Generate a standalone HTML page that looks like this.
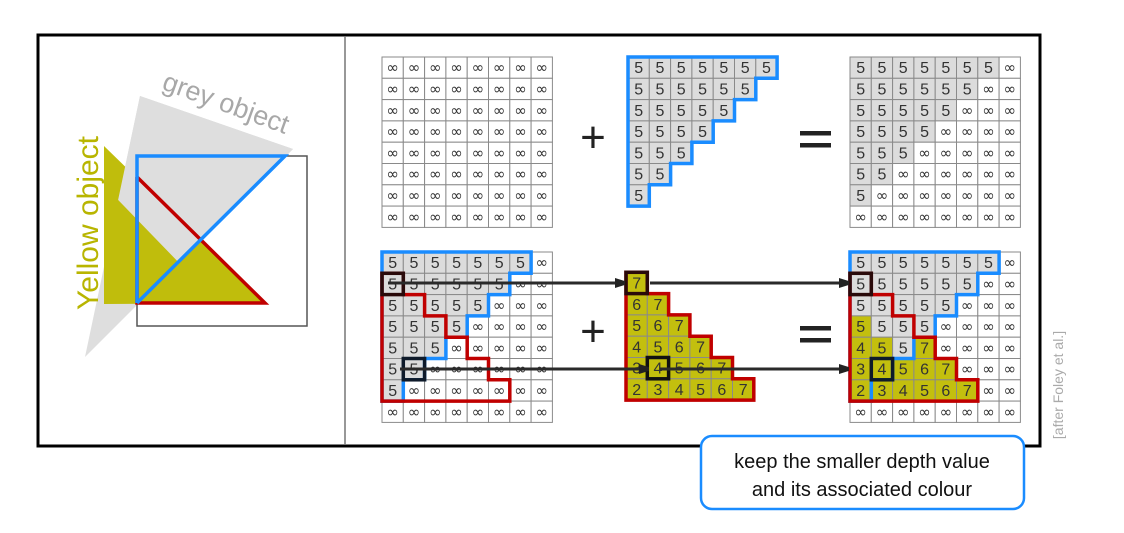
<!DOCTYPE html>
<html><head><meta charset="utf-8">
<style>
html,body{margin:0;padding:0;background:#fff;}
body{width:1124px;height:528px;overflow:hidden;position:relative;font-family:"Liberation Sans","DejaVu Sans",sans-serif;}
svg text{font-family:"Liberation Sans","DejaVu Sans",sans-serif;}
</style></head>
<body>
<svg id="s" width="1124" height="528" viewBox="0 0 1124 528" xmlns="http://www.w3.org/2000/svg">
  <defs>
    <clipPath id="greyFront"><polygon points="0,78 400,491 400,0 0,0"/></clipPath>
    <marker id="ah" markerWidth="10" markerHeight="10" refX="9" refY="5" orient="auto" markerUnits="userSpaceOnUse">
      <path d="M0,0 L16,5 L0,10 z" fill="#222"/>
    </marker>
  </defs>
  <rect x="38" y="35" width="1002" height="411" fill="none" stroke="#000" stroke-width="3"/>
  <line x1="345" y1="36" x2="345" y2="445" stroke="#777" stroke-width="1.5"/>

  <g>
    <polygon points="140,96 293,149 85,357" fill="#dedede"/>
    <polygon points="104,146 265,303 104,304" fill="#c0bd0c"/>
    <polygon points="140,96 293,149 85,357" fill="#dedede" clip-path="url(#greyFront)"/>
    <rect x="137" y="156" width="170" height="170" fill="none" stroke="#555" stroke-width="1.5"/>
    <polyline points="137,177 265,303 137,303 137,177" fill="none" stroke="#c00000" stroke-width="3.5"/>
    <polyline points="137,303 137,156 285,156 137,303" fill="none" stroke="#1a8cff" stroke-width="3.5"/>
    <text x="226" y="112" font-size="27" fill="#a8a8a8" text-anchor="middle" transform="rotate(20 226 103)">grey object</text>
    <text x="0" y="0" font-size="30" fill="#b8b500" text-anchor="middle" transform="translate(98 223) rotate(-90)">Yellow object</text>
  </g>

  <g id="grids"></g>

  <g>
    <text x="593" y="152" font-size="44" fill="#222" text-anchor="middle">+</text>
    <text x="593" y="346" font-size="44" fill="#222" text-anchor="middle">+</text>
    <rect x="800" y="131" width="31" height="4.5" fill="#222"/>
    <rect x="800" y="143" width="31" height="4.5" fill="#222"/>
    <rect x="800" y="326" width="31" height="4.5" fill="#222"/>
    <rect x="800" y="338" width="31" height="4.5" fill="#222"/>
  </g>

  <rect x="701" y="436" width="323" height="73" rx="11" fill="#fff" stroke="#1a8cff" stroke-width="2.5"/>
  <text x="862" y="468" font-size="20" fill="#111" text-anchor="middle">keep the smaller depth value</text>
  <text x="862" y="496" font-size="20" fill="#111" text-anchor="middle">and its associated colour</text>
  <text x="0" y="0" font-size="14" fill="#aaa" text-anchor="middle" transform="translate(1063 385) rotate(-90)">[after Foley et al.]</text>
</svg>
<script>
const N = 8;
const greyDepth = 5;
const greyRowWidths = [7,6,5,4,3,2,1,0];
const yellowRowWidths = [0,1,2,3,4,5,6,0];
const INF = "\u221E";
const S = 21.3;
const GREY = "#dcdcdc", YEL = "#c3bf0e", WHITE = "#fff";
const NS = "http://www.w3.org/2000/svg";
const root = document.getElementById('grids');

function mk(tag, attrs, parent){ const e=document.createElementNS(NS,tag); for(const k in attrs) e.setAttribute(k,attrs[k]); (parent||root).appendChild(e); return e; }

function greyVal(r,c){ return c<greyRowWidths[r] ? greyDepth : null; }
function yVal(r,c){ if(c>=yellowRowWidths[r]) return null; return (8 - yellowRowWidths[r]) + c; }

function cell(g,x,y,val,fill,name){
  const r = mk('rect',{x:x,y:y,width:S,height:S,fill:fill,stroke:'#8a8a8a','stroke-width':1},g);
  
  
  const isInf = val===INF;
  const t = mk('text',{x:x+S/2,y:y+S/2+(isInf?5:5.5),'font-size':isInf?15:16,fill:'#333','text-anchor':'middle'},g);
  if(isInf) t.setAttribute('style','font-family:"DejaVu Sans",sans-serif');
  t.textContent = val;
  
  
}

function stair(x0,y0,r0,r1,widths){
  let p = `M${x0},${y0+r0*S}`;
  for(let r=r0;r<=r1;r++){ p += ` L${x0+widths[r]*S},${y0+r*S} L${x0+widths[r]*S},${y0+(r+1)*S}`; }
  p += ` L${x0},${y0+(r1+1)*S} Z`;
  return p;
}
function outline(g,x0,y0,r0,r1,widths,color,name){
  const p = mk('path',{d:stair(x0,y0,r0,r1,widths),fill:'none',stroke:color,'stroke-width':3.5,'stroke-linejoin':'miter'},g);
  
  
}
function box(g,x0,y0,r,c,color){
  const b = mk('rect',{x:x0+c*S,y:y0+r*S,width:S,height:S,fill:'none',stroke:color,'stroke-width':3.5},g);
  
  
}

(function(){ const x0=382,y0=57; const g=mk('g',{});  
  for(let r=0;r<N;r++)for(let c=0;c<N;c++) cell(g,x0+c*S,y0+r*S,INF,WHITE,'buffer-cell'); })();
(function(){ const x0=628,y0=57; const g=mk('g',{});  
  for(let r=0;r<N;r++)for(let c=0;c<greyRowWidths[r];c++) cell(g,x0+c*S,y0+r*S,greyDepth,GREY,'grey-cell');
  outline(g,x0,y0,0,6,greyRowWidths,'#1a8cff','grey-fragment-outline'); })();
(function(){ const x0=850,y0=57; const g=mk('g',{});  
  for(let r=0;r<N;r++)for(let c=0;c<N;c++){ const v=greyVal(r,c); cell(g,x0+c*S,y0+r*S,v===null?INF:v,v===null?WHITE:GREY,'buffer-cell'); } })();
(function(){ const x0=382,y0=252; const g=mk('g',{});  
  for(let r=0;r<N;r++)for(let c=0;c<N;c++){ const v=greyVal(r,c); cell(g,x0+c*S,y0+r*S,v===null?INF:v,v===null?WHITE:GREY,'buffer-cell'); }
  outline(g,x0,y0,0,6,greyRowWidths,'#1a8cff','grey-outline');
  outline(g,x0,y0,1,6,yellowRowWidths,'#c00000','yellow-outline');
  box(g,x0,y0,1,0,'#2a0a0a'); box(g,x0,y0,5,1,'#0e1a2a'); })();
(function(){ const x0=626,y0=251; const g=mk('g',{});  
  for(let r=1;r<7;r++)for(let c=0;c<yellowRowWidths[r];c++) cell(g,x0+c*S,y0+r*S,yVal(r,c),YEL,'yellow-cell');
  outline(g,x0,y0,1,6,yellowRowWidths,'#c00000','yellow-fragment-outline');
  box(g,x0,y0,1,0,'#2a0a0a'); box(g,x0,y0,5,1,'#111'); })();
(function(){ const x0=850,y0=252; const g=mk('g',{});  
  for(let r=0;r<N;r++)for(let c=0;c<N;c++){
    const gv=greyVal(r,c), yv=yVal(r,c);
    let v=INF, f=WHITE;
    if(gv!==null){v=gv;f=GREY;}
    if(yv!==null && (gv===null || yv<=gv)){v=yv;f=YEL;}
    cell(g,x0+c*S,y0+r*S,v,f,'buffer-cell'); }
  outline(g,x0,y0,0,6,greyRowWidths,'#1a8cff','grey-outline');
  outline(g,x0,y0,1,6,yellowRowWidths,'#c00000','yellow-outline');
  box(g,x0,y0,1,0,'#2a0a0a'); box(g,x0,y0,5,1,'#0e1a2a'); })();

const arrows=[[388,283,624],[650,283,848],[400,369,648],[660,369,848]];
for(const a of arrows){
  const l=mk('line',{x1:a[0],y1:a[1],x2:a[2],y2:a[1],stroke:'#2a2a2a','stroke-width':3,'marker-end':'url(#ah)'});
  
  
}
</script>
</body></html>
